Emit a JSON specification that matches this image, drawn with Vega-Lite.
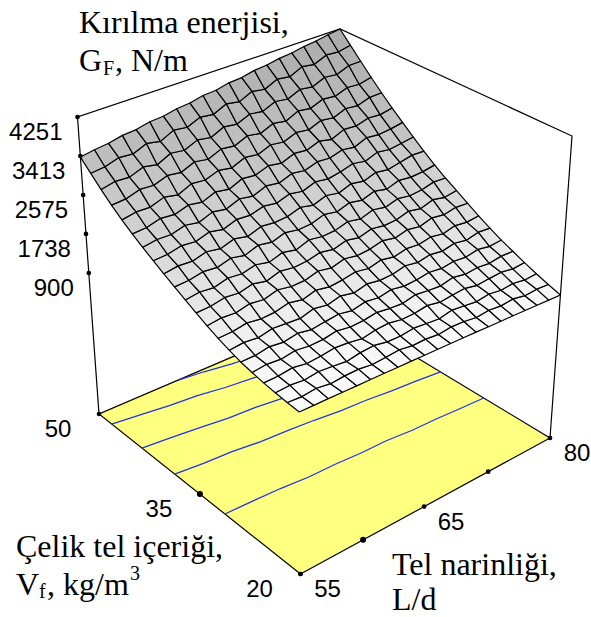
{"$schema":"https://vega.github.io/schema/vega-lite/v6.json","width":591,"height":617,"padding":0,"autosize":{"type":"none"},"config":{"view":{"stroke":null}},
"datasets":{"grid":[
{"L":55,"V":20,"G":997},{"L":56.25,"V":20,"G":990},{"L":57.5,"V":20,"G":988},{"L":58.75,"V":20,"G":981},{"L":60,"V":20,"G":975},{"L":61.25,"V":20,"G":970},{"L":62.5,"V":20,"G":965},{"L":63.75,"V":20,"G":958},{"L":65,"V":20,"G":955},{"L":66.25,"V":20,"G":949},{"L":67.5,"V":20,"G":944},{"L":68.75,"V":20,"G":939},{"L":70,"V":20,"G":934},{"L":71.25,"V":20,"G":930},{"L":72.5,"V":20,"G":923},{"L":73.75,"V":20,"G":918},{"L":75,"V":20,"G":913},{"L":76.25,"V":20,"G":908},{"L":77.5,"V":20,"G":902},{"L":78.75,"V":20,"G":897},{"L":80,"V":20,"G":891},
{"L":55,"V":21.5,"G":1017},{"L":56.25,"V":21.5,"G":1000},{"L":57.5,"V":21.5,"G":1030},{"L":58.75,"V":21.5,"G":990},{"L":60,"V":21.5,"G":1015},{"L":61.25,"V":21.5,"G":1020},{"L":62.5,"V":21.5,"G":985},{"L":63.75,"V":21.5,"G":1005},{"L":65,"V":21.5,"G":1030},{"L":66.25,"V":21.5,"G":990},{"L":67.5,"V":21.5,"G":1000},{"L":68.75,"V":21.5,"G":975},{"L":70,"V":21.5,"G":1010},{"L":71.25,"V":21.5,"G":1000},{"L":72.5,"V":21.5,"G":965},{"L":73.75,"V":21.5,"G":1000},{"L":75,"V":21.5,"G":975},{"L":76.25,"V":21.5,"G":1005},{"L":77.5,"V":21.5,"G":960},{"L":78.75,"V":21.5,"G":985},{"L":80,"V":21.5,"G":971},
{"L":55,"V":23,"G":1047},{"L":56.25,"V":23,"G":1065},{"L":57.5,"V":23,"G":1035},{"L":58.75,"V":23,"G":1075},{"L":60,"V":23,"G":1050},{"L":61.25,"V":23,"G":1020},{"L":62.5,"V":23,"G":1070},{"L":63.75,"V":23,"G":1090},{"L":65,"V":23,"G":1040},{"L":66.25,"V":23,"G":1035},{"L":67.5,"V":23,"G":1075},{"L":68.75,"V":23,"G":1050},{"L":70,"V":23,"G":1030},{"L":71.25,"V":23,"G":1090},{"L":72.5,"V":23,"G":1065},{"L":73.75,"V":23,"G":1035},{"L":75,"V":23,"G":1080},{"L":76.25,"V":23,"G":1045},{"L":77.5,"V":23,"G":1075},{"L":78.75,"V":23,"G":1040},{"L":80,"V":23,"G":1061},
{"L":55,"V":24.5,"G":1085},{"L":56.25,"V":24.5,"G":1090},{"L":57.5,"V":24.5,"G":1125},{"L":58.75,"V":24.5,"G":1080},{"L":60,"V":24.5,"G":1100},{"L":61.25,"V":24.5,"G":1140},{"L":62.5,"V":24.5,"G":1120},{"L":63.75,"V":24.5,"G":1075},{"L":65,"V":24.5,"G":1130},{"L":66.25,"V":24.5,"G":1150},{"L":67.5,"V":24.5,"G":1105},{"L":68.75,"V":24.5,"G":1115},{"L":70,"V":24.5,"G":1160},{"L":71.25,"V":24.5,"G":1110},{"L":72.5,"V":24.5,"G":1145},{"L":73.75,"V":24.5,"G":1170},{"L":75,"V":24.5,"G":1120},{"L":76.25,"V":24.5,"G":1150},{"L":77.5,"V":24.5,"G":1175},{"L":78.75,"V":24.5,"G":1135},{"L":80,"V":24.5,"G":1161},
{"L":55,"V":26,"G":1133},{"L":56.25,"V":26,"G":1165},{"L":57.5,"V":26,"G":1140},{"L":58.75,"V":26,"G":1185},{"L":60,"V":26,"G":1150},{"L":61.25,"V":26,"G":1160},{"L":62.5,"V":26,"G":1210},{"L":63.75,"V":26,"G":1165},{"L":65,"V":26,"G":1180},{"L":66.25,"V":26,"G":1225},{"L":67.5,"V":26,"G":1190},{"L":68.75,"V":26,"G":1175},{"L":70,"V":26,"G":1240},{"L":71.25,"V":26,"G":1210},{"L":72.5,"V":26,"G":1195},{"L":73.75,"V":26,"G":1260},{"L":75,"V":26,"G":1215},{"L":76.25,"V":26,"G":1245},{"L":77.5,"V":26,"G":1225},{"L":78.75,"V":26,"G":1270},{"L":80,"V":26,"G":1266},
{"L":55,"V":27.5,"G":1188},{"L":56.25,"V":27.5,"G":1190},{"L":57.5,"V":27.5,"G":1240},{"L":58.75,"V":27.5,"G":1205},{"L":60,"V":27.5,"G":1260},{"L":61.25,"V":27.5,"G":1210},{"L":62.5,"V":27.5,"G":1250},{"L":63.75,"V":27.5,"G":1285},{"L":65,"V":27.5,"G":1235},{"L":66.25,"V":27.5,"G":1300},{"L":67.5,"V":27.5,"G":1265},{"L":68.75,"V":27.5,"G":1320},{"L":70,"V":27.5,"G":1275},{"L":71.25,"V":27.5,"G":1295},{"L":72.5,"V":27.5,"G":1340},{"L":73.75,"V":27.5,"G":1310},{"L":75,"V":27.5,"G":1350},{"L":76.25,"V":27.5,"G":1330},{"L":77.5,"V":27.5,"G":1385},{"L":78.75,"V":27.5,"G":1345},{"L":80,"V":27.5,"G":1373},
{"L":55,"V":29,"G":1268},{"L":56.25,"V":29,"G":1300},{"L":57.5,"V":29,"G":1270},{"L":58.75,"V":29,"G":1330},{"L":60,"V":29,"G":1310},{"L":61.25,"V":29,"G":1290},{"L":62.5,"V":29,"G":1370},{"L":63.75,"V":29,"G":1325},{"L":65,"V":29,"G":1395},{"L":66.25,"V":29,"G":1340},{"L":67.5,"V":29,"G":1410},{"L":68.75,"V":29,"G":1370},{"L":70,"V":29,"G":1385},{"L":71.25,"V":29,"G":1450},{"L":72.5,"V":29,"G":1410},{"L":73.75,"V":29,"G":1465},{"L":75,"V":29,"G":1430},{"L":76.25,"V":29,"G":1490},{"L":77.5,"V":29,"G":1450},{"L":78.75,"V":29,"G":1515},{"L":80,"V":29,"G":1498},
{"L":55,"V":30.5,"G":1358},{"L":56.25,"V":30.5,"G":1370},{"L":57.5,"V":30.5,"G":1420},{"L":58.75,"V":30.5,"G":1380},{"L":60,"V":30.5,"G":1395},{"L":61.25,"V":30.5,"G":1465},{"L":62.5,"V":30.5,"G":1410},{"L":63.75,"V":30.5,"G":1490},{"L":65,"V":30.5,"G":1440},{"L":66.25,"V":30.5,"G":1470},{"L":67.5,"V":30.5,"G":1525},{"L":68.75,"V":30.5,"G":1480},{"L":70,"V":30.5,"G":1550},{"L":71.25,"V":30.5,"G":1500},{"L":72.5,"V":30.5,"G":1565},{"L":73.75,"V":30.5,"G":1545},{"L":75,"V":30.5,"G":1600},{"L":76.25,"V":30.5,"G":1560},{"L":77.5,"V":30.5,"G":1630},{"L":78.75,"V":30.5,"G":1600},{"L":80,"V":30.5,"G":1633},
{"L":55,"V":32,"G":1463},{"L":56.25,"V":32,"G":1500},{"L":57.5,"V":32,"G":1480},{"L":58.75,"V":32,"G":1545},{"L":60,"V":32,"G":1510},{"L":61.25,"V":32,"G":1590},{"L":62.5,"V":32,"G":1540},{"L":63.75,"V":32,"G":1550},{"L":65,"V":32,"G":1630},{"L":66.25,"V":32,"G":1580},{"L":67.5,"V":32,"G":1660},{"L":68.75,"V":32,"G":1615},{"L":70,"V":32,"G":1640},{"L":71.25,"V":32,"G":1710},{"L":72.5,"V":32,"G":1660},{"L":73.75,"V":32,"G":1730},{"L":75,"V":32,"G":1690},{"L":76.25,"V":32,"G":1770},{"L":77.5,"V":32,"G":1735},{"L":78.75,"V":32,"G":1790},{"L":80,"V":32,"G":1778},
{"L":55,"V":33.5,"G":1578},{"L":56.25,"V":33.5,"G":1590},{"L":57.5,"V":33.5,"G":1650},{"L":58.75,"V":33.5,"G":1620},{"L":60,"V":33.5,"G":1690},{"L":61.25,"V":33.5,"G":1630},{"L":62.5,"V":33.5,"G":1720},{"L":63.75,"V":33.5,"G":1680},{"L":65,"V":33.5,"G":1700},{"L":66.25,"V":33.5,"G":1770},{"L":67.5,"V":33.5,"G":1720},{"L":68.75,"V":33.5,"G":1800},{"L":70,"V":33.5,"G":1750},{"L":71.25,"V":33.5,"G":1830},{"L":72.5,"V":33.5,"G":1790},{"L":73.75,"V":33.5,"G":1810},{"L":75,"V":33.5,"G":1890},{"L":76.25,"V":33.5,"G":1840},{"L":77.5,"V":33.5,"G":1930},{"L":78.75,"V":33.5,"G":1880},{"L":80,"V":33.5,"G":1928},
{"L":55,"V":35,"G":1699},{"L":56.25,"V":35,"G":1740},{"L":57.5,"V":35,"G":1710},{"L":58.75,"V":35,"G":1790},{"L":60,"V":35,"G":1760},{"L":61.25,"V":35,"G":1830},{"L":62.5,"V":35,"G":1770},{"L":63.75,"V":35,"G":1860},{"L":65,"V":35,"G":1800},{"L":66.25,"V":35,"G":1900},{"L":67.5,"V":35,"G":1860},{"L":68.75,"V":35,"G":1880},{"L":70,"V":35,"G":1960},{"L":71.25,"V":35,"G":1910},{"L":72.5,"V":35,"G":2000},{"L":73.75,"V":35,"G":1950},{"L":75,"V":35,"G":2030},{"L":76.25,"V":35,"G":1990},{"L":77.5,"V":35,"G":2020},{"L":78.75,"V":35,"G":2090},{"L":80,"V":35,"G":2075},
{"L":55,"V":36.5,"G":1824},{"L":56.25,"V":36.5,"G":1840},{"L":57.5,"V":36.5,"G":1900},{"L":58.75,"V":36.5,"G":1870},{"L":60,"V":36.5,"G":1950},{"L":61.25,"V":36.5,"G":1890},{"L":62.5,"V":36.5,"G":1990},{"L":63.75,"V":36.5,"G":1940},{"L":65,"V":36.5,"G":2030},{"L":66.25,"V":36.5,"G":1980},{"L":67.5,"V":36.5,"G":2000},{"L":68.75,"V":36.5,"G":2090},{"L":70,"V":36.5,"G":2040},{"L":71.25,"V":36.5,"G":2130},{"L":72.5,"V":36.5,"G":2080},{"L":73.75,"V":36.5,"G":2170},{"L":75,"V":36.5,"G":2110},{"L":76.25,"V":36.5,"G":2200},{"L":77.5,"V":36.5,"G":2170},{"L":78.75,"V":36.5,"G":2190},{"L":80,"V":36.5,"G":2240},
{"L":55,"V":38,"G":1954},{"L":56.25,"V":38,"G":2000},{"L":57.5,"V":38,"G":1980},{"L":58.75,"V":38,"G":2060},{"L":60,"V":38,"G":2010},{"L":61.25,"V":38,"G":2100},{"L":62.5,"V":38,"G":2040},{"L":63.75,"V":38,"G":2140},{"L":65,"V":38,"G":2110},{"L":66.25,"V":38,"G":2130},{"L":67.5,"V":38,"G":2220},{"L":68.75,"V":38,"G":2160},{"L":70,"V":38,"G":2260},{"L":71.25,"V":38,"G":2210},{"L":72.5,"V":38,"G":2310},{"L":73.75,"V":38,"G":2260},{"L":75,"V":38,"G":2350},{"L":76.25,"V":38,"G":2310},{"L":77.5,"V":38,"G":2370},{"L":78.75,"V":38,"G":2430},{"L":80,"V":38,"G":2420},
{"L":55,"V":39.5,"G":2089},{"L":56.25,"V":39.5,"G":2105},{"L":57.5,"V":39.5,"G":2170},{"L":58.75,"V":39.5,"G":2140},{"L":60,"V":39.5,"G":2230},{"L":61.25,"V":39.5,"G":2170},{"L":62.5,"V":39.5,"G":2270},{"L":63.75,"V":39.5,"G":2250},{"L":65,"V":39.5,"G":2330},{"L":66.25,"V":39.5,"G":2290},{"L":67.5,"V":39.5,"G":2380},{"L":68.75,"V":39.5,"G":2330},{"L":70,"V":39.5,"G":2430},{"L":71.25,"V":39.5,"G":2390},{"L":72.5,"V":39.5,"G":2440},{"L":73.75,"V":39.5,"G":2520},{"L":75,"V":39.5,"G":2470},{"L":76.25,"V":39.5,"G":2570},{"L":77.5,"V":39.5,"G":2530},{"L":78.75,"V":39.5,"G":2570},{"L":80,"V":39.5,"G":2615},
{"L":55,"V":41,"G":2234},{"L":56.25,"V":41,"G":2280},{"L":57.5,"V":41,"G":2270},{"L":58.75,"V":41,"G":2350},{"L":60,"V":41,"G":2300},{"L":61.25,"V":41,"G":2410},{"L":62.5,"V":41,"G":2360},{"L":63.75,"V":41,"G":2470},{"L":65,"V":41,"G":2420},{"L":66.25,"V":41,"G":2530},{"L":67.5,"V":41,"G":2490},{"L":68.75,"V":41,"G":2590},{"L":70,"V":41,"G":2550},{"L":71.25,"V":41,"G":2640},{"L":72.5,"V":41,"G":2620},{"L":73.75,"V":41,"G":2700},{"L":75,"V":41,"G":2660},{"L":76.25,"V":41,"G":2770},{"L":77.5,"V":41,"G":2740},{"L":78.75,"V":41,"G":2770},{"L":80,"V":41,"G":2820},
{"L":55,"V":42.5,"G":2381},{"L":56.25,"V":42.5,"G":2400},{"L":57.5,"V":42.5,"G":2480},{"L":58.75,"V":42.5,"G":2450},{"L":60,"V":42.5,"G":2540},{"L":61.25,"V":42.5,"G":2490},{"L":62.5,"V":42.5,"G":2600},{"L":63.75,"V":42.5,"G":2550},{"L":65,"V":42.5,"G":2670},{"L":66.25,"V":42.5,"G":2640},{"L":67.5,"V":42.5,"G":2740},{"L":68.75,"V":42.5,"G":2690},{"L":70,"V":42.5,"G":2800},{"L":71.25,"V":42.5,"G":2770},{"L":72.5,"V":42.5,"G":2870},{"L":73.75,"V":42.5,"G":2810},{"L":75,"V":42.5,"G":2930},{"L":76.25,"V":42.5,"G":2910},{"L":77.5,"V":42.5,"G":2990},{"L":78.75,"V":42.5,"G":2970},{"L":80,"V":42.5,"G":3026},
{"L":55,"V":44,"G":2546},{"L":56.25,"V":44,"G":2600},{"L":57.5,"V":44,"G":2590},{"L":58.75,"V":44,"G":2690},{"L":60,"V":44,"G":2630},{"L":61.25,"V":44,"G":2760},{"L":62.5,"V":44,"G":2730},{"L":63.75,"V":44,"G":2830},{"L":65,"V":44,"G":2780},{"L":66.25,"V":44,"G":2900},{"L":67.5,"V":44,"G":2860},{"L":68.75,"V":44,"G":2970},{"L":70,"V":44,"G":2930},{"L":71.25,"V":44,"G":3040},{"L":72.5,"V":44,"G":3000},{"L":73.75,"V":44,"G":3110},{"L":75,"V":44,"G":3070},{"L":76.25,"V":44,"G":3180},{"L":77.5,"V":44,"G":3150},{"L":78.75,"V":44,"G":3240},{"L":80,"V":44,"G":3251},
{"L":55,"V":45.5,"G":2731},{"L":56.25,"V":45.5,"G":2750},{"L":57.5,"V":45.5,"G":2840},{"L":58.75,"V":45.5,"G":2820},{"L":60,"V":45.5,"G":2920},{"L":61.25,"V":45.5,"G":2880},{"L":62.5,"V":45.5,"G":3000},{"L":63.75,"V":45.5,"G":2950},{"L":65,"V":45.5,"G":3070},{"L":66.25,"V":45.5,"G":3030},{"L":67.5,"V":45.5,"G":3150},{"L":68.75,"V":45.5,"G":3100},{"L":70,"V":45.5,"G":3220},{"L":71.25,"V":45.5,"G":3170},{"L":72.5,"V":45.5,"G":3300},{"L":73.75,"V":45.5,"G":3260},{"L":75,"V":45.5,"G":3370},{"L":76.25,"V":45.5,"G":3340},{"L":77.5,"V":45.5,"G":3440},{"L":78.75,"V":45.5,"G":3420},{"L":80,"V":45.5,"G":3486},
{"L":55,"V":47,"G":2936},{"L":56.25,"V":47,"G":3000},{"L":57.5,"V":47,"G":2980},{"L":58.75,"V":47,"G":3090},{"L":60,"V":47,"G":3030},{"L":61.25,"V":47,"G":3170},{"L":62.5,"V":47,"G":3130},{"L":63.75,"V":47,"G":3250},{"L":65,"V":47,"G":3200},{"L":66.25,"V":47,"G":3330},{"L":67.5,"V":47,"G":3290},{"L":68.75,"V":47,"G":3410},{"L":70,"V":47,"G":3370},{"L":71.25,"V":47,"G":3490},{"L":72.5,"V":47,"G":3450},{"L":73.75,"V":47,"G":3570},{"L":75,"V":47,"G":3530},{"L":76.25,"V":47,"G":3650},{"L":77.5,"V":47,"G":3620},{"L":78.75,"V":47,"G":3730},{"L":80,"V":47,"G":3736},
{"L":55,"V":48.5,"G":3161},{"L":56.25,"V":48.5,"G":3190},{"L":57.5,"V":48.5,"G":3280},{"L":58.75,"V":48.5,"G":3250},{"L":60,"V":48.5,"G":3370},{"L":61.25,"V":48.5,"G":3310},{"L":62.5,"V":48.5,"G":3450},{"L":63.75,"V":48.5,"G":3410},{"L":65,"V":48.5,"G":3530},{"L":66.25,"V":48.5,"G":3490},{"L":67.5,"V":48.5,"G":3620},{"L":68.75,"V":48.5,"G":3570},{"L":70,"V":48.5,"G":3700},{"L":71.25,"V":48.5,"G":3650},{"L":72.5,"V":48.5,"G":3780},{"L":73.75,"V":48.5,"G":3740},{"L":75,"V":48.5,"G":3870},{"L":76.25,"V":48.5,"G":3830},{"L":77.5,"V":48.5,"G":3950},{"L":78.75,"V":48.5,"G":3930},{"L":80,"V":48.5,"G":3991},
{"L":55,"V":50,"G":3390},{"L":56.25,"V":50,"G":3440},{"L":57.5,"V":50,"G":3470},{"L":58.75,"V":50,"G":3535},{"L":60,"V":50,"G":3555},{"L":61.25,"V":50,"G":3620},{"L":62.5,"V":50,"G":3640},{"L":63.75,"V":50,"G":3700},{"L":65,"V":50,"G":3725},{"L":66.25,"V":50,"G":3790},{"L":67.5,"V":50,"G":3810},{"L":68.75,"V":50,"G":3875},{"L":70,"V":50,"G":3895},{"L":71.25,"V":50,"G":3960},{"L":72.5,"V":50,"G":3985},{"L":73.75,"V":50,"G":4040},{"L":75,"V":50,"G":4070},{"L":76.25,"V":50,"G":4125},{"L":77.5,"V":50,"G":4155},{"L":78.75,"V":50,"G":4210},{"L":80,"V":50,"G":4251}
]},
"data":{"values":[
{"kind":"floor","n":0,"L":55,"V":20,"G":-2130},{"kind":"floor","n":1,"L":80,"V":20,"G":-2130},{"kind":"floor","n":2,"L":80,"V":50,"G":-2130},{"kind":"floor","n":3,"L":55,"V":50,"G":-2130},{"kind":"floor","n":4,"L":55,"V":20,"G":-2130},
{"kind":"box","n":0,"L":55,"V":50,"G":-2130},{"kind":"box","n":1,"L":55,"V":50,"G":4251},{"kind":"box","n":2,"L":80,"V":50,"G":4251},{"kind":"box","n":3,"L":80,"V":20,"G":4251},{"kind":"box","n":4,"L":80,"V":20,"G":-2130},
{"kind":"c","id":4,"n":0,"L":55,"V":30.26,"G":-2130},{"kind":"c","id":4,"n":1,"L":57.5,"V":30.15,"G":-2130},{"kind":"c","id":4,"n":2,"L":60,"V":30,"G":-2130},{"kind":"c","id":4,"n":3,"L":62.5,"V":29.7,"G":-2130},{"kind":"c","id":4,"n":4,"L":65,"V":29.65,"G":-2130},{"kind":"c","id":4,"n":5,"L":67.5,"V":29.45,"G":-2130},{"kind":"c","id":4,"n":6,"L":70,"V":29.4,"G":-2130},{"kind":"c","id":4,"n":7,"L":72.5,"V":29.1,"G":-2130},{"kind":"c","id":4,"n":8,"L":75,"V":29,"G":-2130},{"kind":"c","id":4,"n":9,"L":77.5,"V":28.8,"G":-2130},{"kind":"c","id":4,"n":10,"L":80,"V":28.64,"G":-2130},
{"kind":"c","id":3,"n":0,"L":55,"V":37.7,"G":-2130},{"kind":"c","id":3,"n":1,"L":57.5,"V":37.35,"G":-2130},{"kind":"c","id":3,"n":2,"L":60,"V":37.15,"G":-2130},{"kind":"c","id":3,"n":3,"L":62.5,"V":36.7,"G":-2130},{"kind":"c","id":3,"n":4,"L":65,"V":36.5,"G":-2130},{"kind":"c","id":3,"n":5,"L":67.5,"V":36.2,"G":-2130},{"kind":"c","id":3,"n":6,"L":70,"V":35.8,"G":-2130},{"kind":"c","id":3,"n":7,"L":72.5,"V":35.6,"G":-2130},{"kind":"c","id":3,"n":8,"L":75,"V":35.25,"G":-2130},{"kind":"c","id":3,"n":9,"L":77.5,"V":35,"G":-2130},{"kind":"c","id":3,"n":10,"L":80,"V":34.64,"G":-2130},
{"kind":"c","id":2,"n":0,"L":55,"V":42.86,"G":-2130},{"kind":"c","id":2,"n":1,"L":57.5,"V":42.5,"G":-2130},{"kind":"c","id":2,"n":2,"L":60,"V":42.1,"G":-2130},{"kind":"c","id":2,"n":3,"L":62.5,"V":41.65,"G":-2130},{"kind":"c","id":2,"n":4,"L":65,"V":41.45,"G":-2130},{"kind":"c","id":2,"n":5,"L":67.5,"V":41,"G":-2130},{"kind":"c","id":2,"n":6,"L":70,"V":40.7,"G":-2130},{"kind":"c","id":2,"n":7,"L":72.5,"V":40.3,"G":-2130},{"kind":"c","id":2,"n":8,"L":75,"V":40,"G":-2130},{"kind":"c","id":2,"n":9,"L":77.5,"V":39.55,"G":-2130},{"kind":"c","id":2,"n":10,"L":80,"V":39.2,"G":-2130},
{"kind":"c","id":1,"n":0,"L":55,"V":47.84,"G":-2130},{"kind":"c","id":1,"n":1,"L":57.5,"V":47.4,"G":-2130},{"kind":"c","id":1,"n":2,"L":60,"V":46.9,"G":-2130},{"kind":"c","id":1,"n":3,"L":62.5,"V":46.6,"G":-2130},{"kind":"c","id":1,"n":4,"L":65,"V":46,"G":-2130},{"kind":"c","id":1,"n":5,"L":67.5,"V":45.6,"G":-2130},{"kind":"c","id":1,"n":6,"L":70,"V":45.1,"G":-2130},{"kind":"c","id":1,"n":7,"L":72.5,"V":44.7,"G":-2130},{"kind":"c","id":1,"n":8,"L":75,"V":44.3,"G":-2130},{"kind":"c","id":1,"n":9,"L":77.5,"V":43.8,"G":-2130},{"kind":"c","id":1,"n":10,"L":80,"V":43.34,"G":-2130},
{"kind":"c","id":0,"n":0,"L":62.65,"V":50,"G":-2130},{"kind":"c","id":0,"n":1,"L":65,"V":49.6,"G":-2130},{"kind":"c","id":0,"n":2,"L":67.5,"V":49,"G":-2130},{"kind":"c","id":0,"n":3,"L":70,"V":48.6,"G":-2130},{"kind":"c","id":0,"n":4,"L":72.5,"V":48.1,"G":-2130},{"kind":"c","id":0,"n":5,"L":75,"V":47.7,"G":-2130},
{"kind":"z","L":55,"V":50,"G":4251,"t":"4251"},{"kind":"z","L":55,"V":50,"G":3413,"t":"3413"},{"kind":"z","L":55,"V":50,"G":2575,"t":"2575"},{"kind":"z","L":55,"V":50,"G":1738,"t":"1738"},{"kind":"z","L":55,"V":50,"G":900,"t":"900"},
{"kind":"vt","L":55,"V":50,"G":-2130,"t":"50"},{"kind":"vt","L":55,"V":33.9,"G":-2130,"t":"35"},{"kind":"vt","L":55,"V":20,"G":-2130,"t":"20"},
{"kind":"lt","L":55,"V":20,"G":-2130,"t":"55"},{"kind":"lt","L":60.7,"V":20,"G":-2130,"t":""},{"kind":"lt","L":66.6,"V":20,"G":-2130,"t":"65"},{"kind":"lt","L":73.2,"V":20,"G":-2130,"t":""},{"kind":"lt","L":80,"V":20,"G":-2130,"t":"80"},
{"kind":"a1","L":55,"V":50,"G":4251},{"kind":"a2","L":55,"V":20,"G":-2130}
]},
"transform":[
{"calculate":"(datum.L-55)/25","as":"u"},{"calculate":"(datum.V-20)/30","as":"v"},{"calculate":"(datum.G+2130)/6381","as":"w"},
{"calculate":"0.13422*datum.u+0.1549*datum.v+1","as":"d"},
{"calculate":"(323.32*datum.u-186.16*datum.v+300.5)/datum.d+datum.w*((1-datum.u)*(1-datum.v)*-2.7+datum.u*(1-datum.v)*22+(1-datum.u)*datum.v*-21.5+datum.u*datum.v*0.5)","as":"sx"},
{"calculate":"(-77.21*datum.u-95.87*datum.v+574)/datum.d+datum.w*((1-datum.u)*(1-datum.v)*-330.7+datum.u*(1-datum.v)*-302+(1-datum.u)*datum.v*-297+datum.u*datum.v*-282)","as":"sy"}
],
"encoding":{"x":{"field":"sx","type":"quantitative","scale":{"domain":[0,591],"nice":false,"zero":false},"axis":null},"y":{"field":"sy","type":"quantitative","scale":{"domain":[617,0],"nice":false,"zero":false},"axis":null}},
"layer":[
{"transform":[{"filter":"datum.kind=='floor'"}],"mark":{"type":"line","fill":"#ffff80","stroke":"#000","strokeWidth":1.2},"encoding":{"order":{"field":"n","type":"quantitative"}}},
{"transform":[{"filter":"datum.kind=='c'"}],"mark":{"type":"line","stroke":"#1f35e8","strokeWidth":1.3},"encoding":{"detail":{"field":"id","type":"nominal"},"order":{"field":"n","type":"quantitative"}}},
{"transform":[{"filter":"datum.kind=='box'"}],"mark":{"type":"line","stroke":"#000","strokeWidth":1.2},"encoding":{"order":{"field":"n","type":"quantitative"}}},
{"data":{"name":"grid"},"transform":[
{"window":[{"op":"lead","field":"G","as":"Gr"},{"op":"lead","field":"L","as":"Lr"}],"groupby":["V"],"sort":[{"field":"L"}]},
{"window":[{"op":"lead","field":"G","as":"Gt"},{"op":"lead","field":"Gr","as":"Grt"},{"op":"lead","field":"V","as":"Vt"}],"groupby":["L"],"sort":[{"field":"V"}]},
{"filter":"isValid(datum.Gr)&&isValid(datum.Gt)"},
{"calculate":"datum.L+'_'+datum.V","as":"cell"},
{"calculate":"(datum.G+datum.Gr+datum.Gt+datum.Grt)/4","as":"Gm"},
{"calculate":"[{n:0,L:datum.L,V:datum.V,G:datum.G},{n:1,L:datum.Lr,V:datum.V,G:datum.Gr},{n:2,L:datum.Lr,V:datum.Vt,G:datum.Grt},{n:3,L:datum.L,V:datum.Vt,G:datum.Gt},{n:4,L:datum.L,V:datum.V,G:datum.G}]","as":"pts"},
{"flatten":["pts"],"as":["p"]},
{"calculate":"(datum.p.L-55)/25","as":"u"},{"calculate":"(datum.p.V-20)/30","as":"v"},{"calculate":"(datum.p.G+2130)/6381","as":"w"},{"calculate":"datum.p.n","as":"n"},
{"calculate":"0.13422*datum.u+0.1549*datum.v+1","as":"d"},
{"calculate":"(323.32*datum.u-186.16*datum.v+300.5)/datum.d+datum.w*((1-datum.u)*(1-datum.v)*-2.7+datum.u*(1-datum.v)*22+(1-datum.u)*datum.v*-21.5+datum.u*datum.v*0.5)","as":"sx"},
{"calculate":"(-77.21*datum.u-95.87*datum.v+574)/datum.d+datum.w*((1-datum.u)*(1-datum.v)*-330.7+datum.u*(1-datum.v)*-302+(1-datum.u)*datum.v*-297+datum.u*datum.v*-282)","as":"sy"},
{"calculate":"max(0,(datum.Gm+2130)/6381-0.48)","as":"t"},
{"calculate":"round(253-7*(datum.L-55)/25-225*datum.t+160*datum.t*datum.t)","as":"g"},
{"calculate":"'rgb('+datum.g+','+datum.g+','+datum.g+')'","as":"shade"}
],"mark":{"type":"line","stroke":"#000","strokeWidth":1.2,"strokeJoin":"round"},"encoding":{"detail":{"field":"cell","type":"nominal"},"order":{"field":"n","type":"quantitative"},"fill":{"field":"shade","type":"nominal","scale":null}}},
{"transform":[{"filter":"datum.kind=='z'||datum.kind=='vt'||datum.kind=='lt'"}],"mark":{"type":"point","filled":true,"color":"#000","size":22,"opacity":1}},
{"transform":[{"filter":"datum.V==33.9||datum.L==60.7"}],"mark":{"type":"point","filled":true,"color":"#000","size":36,"opacity":1}},
{"transform":[{"filter":"datum.kind=='z'"}],"mark":{"type":"text","font":"Liberation Sans","fontSize":24,"align":"right","baseline":"middle","dx":-15,"dy":16,"color":"#000"},"encoding":{"text":{"field":"t"}}},
{"transform":[{"filter":"datum.kind=='vt'"}],"mark":{"type":"text","font":"Liberation Sans","fontSize":24,"align":"center","baseline":"middle","dx":-41,"dy":16,"color":"#000"},"encoding":{"text":{"field":"t"}}},
{"transform":[{"filter":"datum.kind=='lt'"}],"mark":{"type":"text","font":"Liberation Sans","fontSize":24,"align":"center","baseline":"middle","dx":27,"dy":16,"color":"#000"},"encoding":{"text":{"field":"t"}}},
{"transform":[{"filter":"datum.kind=='a1'"}],"mark":{"type":"text","font":"Liberation Serif","fontSize":32,"align":"left","baseline":"alphabetic","dx":1.5,"dy":-84,"color":"#000","text":"Kırılma enerjisi,"}},
{"transform":[{"filter":"datum.kind=='a1'"}],"mark":{"type":"text","font":"Liberation Serif","fontSize":32,"align":"left","baseline":"alphabetic","dx":1.5,"dy":-46,"color":"#000","text":"G"}},
{"transform":[{"filter":"datum.kind=='a1'"}],"mark":{"type":"text","font":"Liberation Serif","fontSize":20,"align":"left","baseline":"alphabetic","dx":25.5,"dy":-42,"color":"#000","text":"F"}},
{"transform":[{"filter":"datum.kind=='a1'"}],"mark":{"type":"text","font":"Liberation Serif","fontSize":32,"align":"left","baseline":"alphabetic","dx":37.5,"dy":-46,"color":"#000","text":", N/m"}},
{"transform":[{"filter":"datum.kind=='a2'"}],"mark":{"type":"text","font":"Liberation Serif","fontSize":32,"align":"left","baseline":"alphabetic","dx":91.5,"dy":1,"color":"#000","text":"Tel narinliği,"}},
{"transform":[{"filter":"datum.kind=='a2'"}],"mark":{"type":"text","font":"Liberation Serif","fontSize":32,"align":"left","baseline":"alphabetic","dx":91.5,"dy":36,"color":"#000","text":"L/d"}},
{"transform":[{"filter":"datum.kind=='a2'"}],"mark":{"type":"text","font":"Liberation Serif","fontSize":32,"align":"left","baseline":"alphabetic","dx":-284.5,"dy":-17,"color":"#000","text":"Çelik tel içeriği,"}},
{"transform":[{"filter":"datum.kind=='a2'"}],"mark":{"type":"text","font":"Liberation Serif","fontSize":32,"align":"left","baseline":"alphabetic","dx":-284.5,"dy":21,"color":"#000","text":"V"}},
{"transform":[{"filter":"datum.kind=='a2'"}],"mark":{"type":"text","font":"Liberation Serif","fontSize":20,"align":"left","baseline":"alphabetic","dx":-261.5,"dy":24,"color":"#000","text":"f"}},
{"transform":[{"filter":"datum.kind=='a2'"}],"mark":{"type":"text","font":"Liberation Serif","fontSize":32,"align":"left","baseline":"alphabetic","dx":-253.5,"dy":21,"color":"#000","text":", kg/m"}},
{"transform":[{"filter":"datum.kind=='a2'"}],"mark":{"type":"text","font":"Liberation Serif","fontSize":20,"align":"left","baseline":"alphabetic","dx":-170.5,"dy":6,"color":"#000","text":"3"}}
]}
